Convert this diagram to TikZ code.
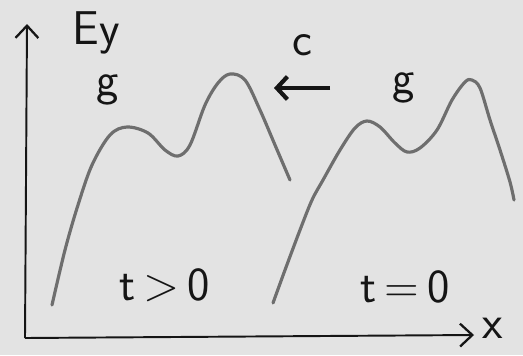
\documentclass[tikz,border=0pt]{standalone}
\usepackage{tikz}
\usepackage{xcolor}
\usetikzlibrary{arrows.meta}
\definecolor{paper}{HTML}{E3E3E3}
\definecolor{pencil}{HTML}{6E6E6E}
\definecolor{ink}{HTML}{151515}

\begin{document}
\begin{tikzpicture}[x=0.02cm,y=-0.02cm,every node/.style={font=\sffamily\fontsize{27}{30}\selectfont,text=ink}]
      \tikzstyle{axis}=[draw=ink,line width=1.1pt,-{Straight Barb[length=7pt,width=13pt,line width=1.3pt]}];
      \tikzstyle{wave}=[draw=pencil,line width=1.8pt,line cap=round,line join=round];
      \tikzstyle{speed}=[draw=ink,line width=2.6pt,-{Straight Barb[length=6pt,width=13pt,line width=2.4pt]}];
      \fill[paper] (0,0) rectangle (523,355);
      \useasboundingbox (0,0) rectangle (523,355);
      % axes
      \coordinate (origin) at (25,338);
      \coordinate (ytop) at (27,24);
      \coordinate (xend) at (474,335);
      \draw[axis] (origin) -- (ytop);
      \draw[axis] (origin) -- (xend);
      \node (ey) at (96,33) {Ey};
      \node (xlab) at (493,328) {x};
      % pulse for t>0
      \draw[wave] plot[smooth,tension=0.55] coordinates {(52,305) (65,250) (78,205) (92,165)
           (110,135) (127,127) (148,133) (165,150) (178,156) (190,145) (205,105) (218,83)
           (230,74) (245,80) (260,110) (275,145) (290,180)};
      % pulse for t=0
      \draw[wave] plot[smooth,tension=0.55] coordinates {(273,303) (285,270) (300,230) (312,200)
           (323,180) (340,150) (355,128) (367,121) (380,127) (395,143) (407,152) (420,148)
           (437,130) (452,100) (465,82) (472,80) (480,88) (490,120) (500,150) (510,182) (514,200)};
      \node (gleft) at (108,90) {g};
      \node (gright) at (404,88) {g};
      \node (c) at (302,45) {c};
      \coordinate (ctail) at (330,88);
      \coordinate (chead) at (274,88);
      \draw[speed] (ctail) -- (chead);
      \node (tlater) at (165,285) {t\,>\,0};
      \node (tstart) at (405,287) {t\,=\,0};
    \end{tikzpicture}
\end{document}
